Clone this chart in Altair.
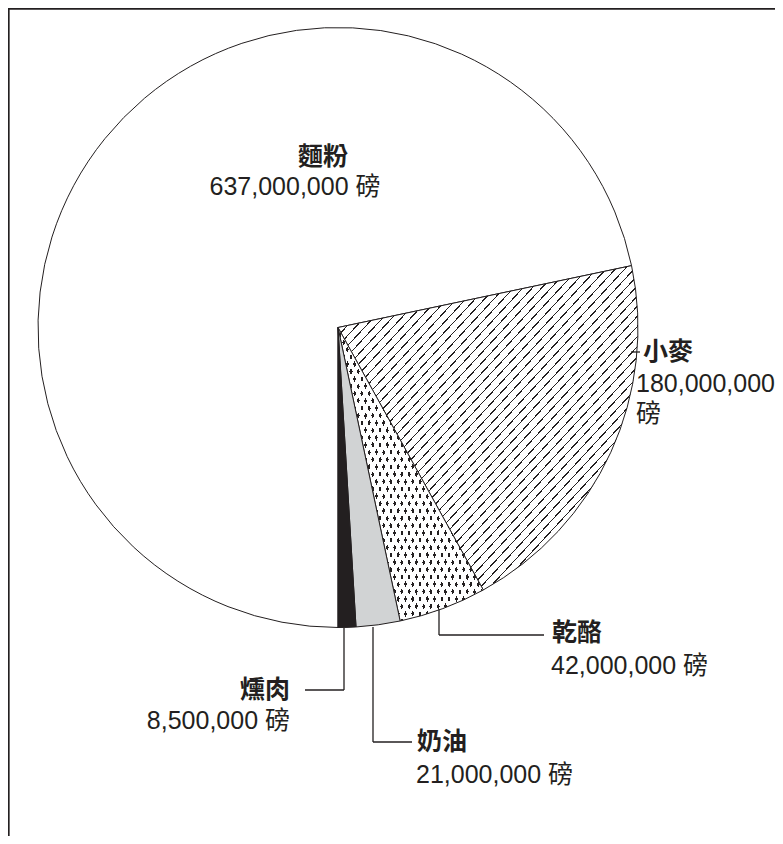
import math
import altair as alt
import pandas as pd

# ---------------- data ----------------
categories = ["麵粉", "小麥", "乾酪", "奶油", "燻肉"]
values = [637000000, 180000000, 42000000, 21000000, 8500000]
value_labels = ["637,000,000 磅", "180,000,000 磅", "42,000,000 磅", "21,000,000 磅", "8,500,000 磅"]

df = pd.DataFrame({
    "cat": categories,
    "value": values,
    "vlabel": value_labels,
    "order": list(range(len(categories))),
})

# ---------------- layout / style ----------------
W, H = 767, 828
CX, CY, R = 330, 319.5, 300
INK = "#231f20"
FONT = "Liberation Sans, Noto Sans CJK TC, sans-serif"
NAME_SIZE = 25
VALUE_SIZE = 25


def stripes(n, on_frac, on_color, off_color, x1, y1, x2, y2):
    stops = []
    for i in range(n):
        a = i / n
        m = (i + 1 - on_frac) / n
        b = (i + 1) / n
        stops += [
            {"offset": round(a, 6), "color": off_color},
            {"offset": round(m, 6), "color": off_color},
            {"offset": round(m, 6), "color": on_color},
            {"offset": round(b, 6), "color": on_color},
        ]
    return {"gradient": "linear", "x1": x1, "y1": y1, "x2": x2, "y2": y2, "stops": stops}


hatch = stripes(64, 0.15, INK, "#ffffff", 0, 0, 1, 1)
dots_a = stripes(40, 0.42, INK, "#ffffff", 0, 0, 1, 1)
dots_b = stripes(40, 0.42, "rgba(255,255,255,0)", "#ffffff", 0, 1, 1, 0)

theta_scale = alt.Scale(domain=[0, 1], range=[math.pi, 3 * math.pi])

base = (
    alt.Chart(df)
    .transform_joinaggregate(total="sum(value)")
    .transform_window(cum="sum(value)", sort=[alt.SortField("order")], frame=[None, 0])
    .transform_calculate(f0="(datum.cum - datum.value) / datum.total", f1="datum.cum / datum.total")
)


def slice_layer(cat, fill, stroke=True):
    kw = dict(radius=R, fill=fill)
    if stroke:
        kw.update(stroke=INK, strokeWidth=1)
    else:
        kw.update(strokeWidth=0)
    return (
        base.transform_filter(alt.datum.cat == cat)
        .mark_arc(**kw)
        .encode(
            theta=alt.Theta("f0:Q", scale=theta_scale),
            theta2="f1:Q",
            x=alt.value(CX),
            y=alt.value(CY),
        )
    )


slices = [
    slice_layer("麵粉", "#ffffff"),
    slice_layer("小麥", hatch),
    slice_layer("乾酪", dots_a, stroke=False),
    slice_layer("乾酪", dots_b),
    slice_layer("奶油", "#d1d3d4"),
    slice_layer("燻肉", INK),
]


def label(cat, field, x, y, align, bold, line_break=None):
    kw = dict(align=align, baseline="middle", font=FONT,
              fontSize=NAME_SIZE if bold else VALUE_SIZE,
              fontWeight="bold" if bold else "normal", color=INK)
    if line_break:
        kw.update(lineBreak=line_break, lineHeight=30)
    return (
        alt.Chart(df)
        .transform_filter(alt.datum.cat == cat)
        .mark_text(**kw)
        .encode(text=f"{field}:N", x=alt.value(x), y=alt.value(y))
    )


labels = [
    label("麵粉", "cat", 315, 149, "center", True),
    label("麵粉", "vlabel", 287, 179, "center", False),
    label("小麥", "cat", 635, 344, "left", True),
    label("小麥", "vlabel", 628, 376, "left", False, line_break=" "),
    label("乾酪", "cat", 544, 625, "left", True),
    label("乾酪", "vlabel", 543, 658, "left", False),
    label("奶油", "cat", 409, 734, "left", True),
    label("奶油", "vlabel", 408, 767, "left", False),
    label("燻肉", "cat", 282, 682, "right", True),
    label("燻肉", "vlabel", 282, 713, "right", False),
]


def seg(x, y, x2, y2, w=1.3, color=INK):
    return (
        alt.Chart(df.head(1))
        .mark_rule(color=color, strokeWidth=w)
        .encode(x=alt.value(x), y=alt.value(y), x2=alt.value(x2), y2=alt.value(y2))
    )


leaders = [
    seg(623, 344, 632, 344),
    seg(431, 601, 431, 627), seg(431, 627, 536, 627),
    seg(365, 619, 365, 734), seg(365, 734, 404, 734),
    seg(336, 620, 336, 682), seg(297, 682, 336, 682),
    # frame
    seg(0, 0.75, W, 0.75, w=1.8),
    seg(0.75, 0, 0.75, H, w=1.8),
]

chart = (
    alt.layer(*slices, *leaders, *labels)
    .properties(width=W, height=H, autosize=alt.AutoSizeParams(type="none"), padding=0)
    .configure_view(strokeWidth=0)
)

chart.save("out.html", embed_options={"renderer": "svg", "actions": False})
